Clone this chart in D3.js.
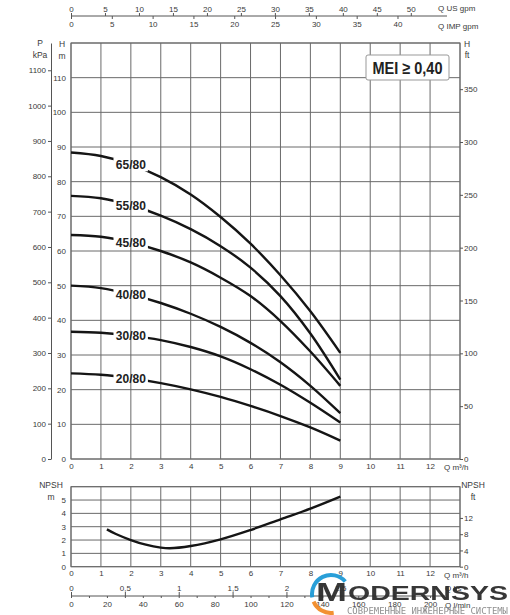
<!DOCTYPE html>
<html>
<head>
<meta charset="utf-8">
<script src="https://cdn.jsdelivr.net/npm/d3@7"></script>
<style>
  body { margin: 0; background: #fff; }
  svg text { font-family: "Liberation Sans", Arial, sans-serif; }
</style>
</head>
<body>
<svg id="chart" width="510" height="615"></svg>
<script>
// head curves (m), one per model
const flowPoints = [0, 1, 2, 3, 4, 5, 6, 7, 8, 9];
const modelNames = ["65/80", "55/80", "45/80", "40/80", "30/80", "20/80"];
const head6580 = [88.4, 87.4, 85.0, 81.3, 76.3, 69.8, 62.1, 53.0, 42.6, 30.6];
const head5580 = [75.9, 75.2, 73.2, 70.2, 66.3, 61.4, 55.2, 47.0, 36.2, 22.9];
const head4580 = [64.6, 64.1, 62.5, 60.0, 56.7, 52.3, 47.0, 39.8, 31.0, 21.1];
const head4080 = [50.0, 49.3, 47.5, 45.0, 41.9, 38.1, 33.5, 27.9, 21.1, 13.2];
const head3080 = [36.7, 36.4, 35.6, 34.3, 32.3, 29.6, 25.9, 21.4, 16.2, 10.5];
const head2080 = [24.7, 24.3, 23.3, 21.9, 20.1, 17.9, 15.3, 12.4, 9.1, 5.3];
const headSeries = [head6580, head5580, head4580, head4080, head3080, head2080];

// NPSH curve (m)
const npshFlow = [1.2, 1.5, 2, 2.5, 3, 3.3, 4, 5, 6, 7, 8, 9];
const npshValues = [2.8, 2.45, 2.0, 1.65, 1.43, 1.38, 1.55, 2.05, 2.75, 3.55, 4.35, 5.25];

// tick labels
const flowTicks = [0, 1, 2, 3, 4, 5, 6, 7, 8, 9, 10, 11, 12];
const headTicks = [0, 10, 20, 30, 40, 50, 60, 70, 80, 90, 100, 110];
const kpaTicks = [0, 100, 200, 300, 400, 500, 600, 700, 800, 900, 1000, 1100];
const ftTicks = [0, 50, 100, 150, 200, 250, 300, 350];
const npshTicks = [0, 1, 2, 3, 4, 5];
const npshFtTicks = [0, 4, 8, 12];
const usGpmTicks = [0, 5, 10, 15, 20, 25, 30, 35, 40, 45, 50];
const impGpmTicks = [0, 5, 10, 15, 20, 25, 30, 35, 40];
const lsTicks = [0, 0.5, 1, 1.5, 2, 2.5, 3];
const lminTicks = [0, 20, 40, 60, 80, 100, 120, 140, 160, 180, 200];
const lminMinor = [10, 30, 50, 70, 90, 110, 130, 150, 170, 190];

var svg = d3.select("#chart");
var gridColor = "#6a6a6a", textColor = "#3a3a3a";
var fmtInt = d3.format("d");

// plot boxes
var pLeft = 71, pRight = 460, pTop = 43, pBottom = 459;
var nTop = 486.7, nBottom = 566.7;

var x = d3.scaleLinear().domain([0, 13]).range([pLeft, pRight]);
var y = d3.scaleLinear().domain([0, 120]).range([pBottom, pTop]);
var yKpa = d3.scaleLinear().domain([0, 120 * 9.81]).range([pBottom, pTop]);
var yFt = d3.scaleLinear().domain([0, 120 * 3.2808]).range([pBottom, pTop]);
var yN = d3.scaleLinear().domain([0, 6]).range([nBottom, nTop]);
var yNft = d3.scaleLinear().domain([0, 6 * 3.2808]).range([nBottom, nTop]);
var xUs = d3.scaleLinear().domain([0, 13 / 0.22712]).range([pLeft, pRight]);
var xImp = d3.scaleLinear().domain([0, 13 / 0.27277]).range([pLeft, pRight]);
var xLs = d3.scaleLinear().domain([0, 13 / 3.6]).range([pLeft, pRight]);
var xLmin = d3.scaleLinear().domain([0, 13 / 0.06]).range([pLeft, pRight]);

function drawGrid(yScale, y0, y1, count) {
    var g = svg.append("g").attr("stroke", gridColor).attr("stroke-width", 1);
    g.selectAll("line.v").data(x.ticks(13)).enter().append("line")
        .attr("x1", d => x(d)).attr("x2", d => x(d))
        .attr("y1", y0).attr("y2", y1);
    g.selectAll("line.h").data(yScale.ticks(count)).enter().append("line")
        .attr("x1", pLeft).attr("x2", pRight)
        .attr("y1", d => yScale(d)).attr("y2", d => yScale(d));
    g.append("rect").attr("x", pLeft).attr("y", y1)
        .attr("width", pRight - pLeft).attr("height", y0 - y1)
        .attr("fill", "none");
}

function styleAxis(g, keepDomain) {
    g.attr("font-size", 8);
    g.selectAll("text").attr("fill", textColor);
    g.selectAll("line").attr("stroke", "#555");
    if (keepDomain) g.select(".domain").attr("stroke", "#555");
    else g.select(".domain").remove();
}

function label(txt, px, py, anchor, size) {
    svg.append("text").attr("x", px).attr("y", py)
        .attr("text-anchor", anchor || "middle")
        .attr("font-size", size || 8.5).attr("fill", textColor).text(txt);
}

drawGrid(y, pBottom, pTop, 12);
drawGrid(yN, nBottom, nTop, 6);

// ---- main chart axes
svg.append("g").attr("transform", "translate(51,0)")
    .call(d3.axisLeft(yKpa).tickValues(kpaTicks).tickFormat(fmtInt)
        .tickSize(3).tickSizeOuter(0).tickPadding(2))
    .call(g => styleAxis(g, true));
svg.append("g").attr("transform", "translate(" + pLeft + ",0)")
    .call(d3.axisLeft(y).tickValues(headTicks).tickFormat(fmtInt).tickSize(0).tickPadding(5))
    .call(g => styleAxis(g));
svg.append("g").attr("transform", "translate(" + pRight + ",0)")
    .call(d3.axisRight(yFt).tickValues(ftTicks).tickFormat(fmtInt).tickSize(3).tickPadding(1))
    .call(g => styleAxis(g));
svg.append("g").attr("transform", "translate(0," + pBottom + ")")
    .call(d3.axisBottom(x).tickValues(flowTicks).tickFormat(fmtInt).tickSize(0).tickPadding(4))
    .call(g => styleAxis(g));

label("P", 40, 46);
label("kPa", 40, 58);
label("H", 62, 47);
label("m", 62, 59);
label("H", 467, 47);
label("ft", 467, 58);
label("Q m³/h", 444, 470, "start", 8);

// ---- NPSH axes
svg.append("g").attr("transform", "translate(" + pLeft + ",0)")
    .call(d3.axisLeft(yN).tickValues(npshTicks).tickFormat(fmtInt).tickSize(0).tickPadding(5))
    .call(g => styleAxis(g));
svg.append("g").attr("transform", "translate(" + pRight + ",0)")
    .call(d3.axisRight(yNft).tickValues(npshFtTicks).tickFormat(fmtInt).tickSize(3).tickPadding(1))
    .call(g => styleAxis(g));
svg.append("g").attr("transform", "translate(0," + nBottom + ")")
    .call(d3.axisBottom(x).tickValues(flowTicks).tickFormat(fmtInt).tickSize(0).tickPadding(4))
    .call(g => styleAxis(g));

label("NPSH", 51, 488);
label("m", 51, 500);
label("NPSH", 473, 488);
label("ft", 473, 500);
label("Q m³/h", 444, 578, "start", 8);

// ---- top flow axes (gpm)
svg.append("line").attr("x1", pLeft).attr("x2", 447).attr("y1", 16).attr("y2", 16)
    .attr("stroke", "#555");
svg.append("g").attr("transform", "translate(0,16)")
    .call(d3.axisTop(xUs).tickValues(usGpmTicks).tickFormat(fmtInt).tickSize(3).tickPadding(1))
    .call(g => styleAxis(g));
svg.append("g").attr("transform", "translate(0,16)")
    .call(d3.axisBottom(xImp).tickValues(impGpmTicks).tickFormat(fmtInt).tickSize(3).tickPadding(2))
    .call(g => styleAxis(g));
label("Q US gpm", 438, 10.5, "start", 8);
label("Q IMP gpm", 438, 28.5, "start", 8);

// ---- bottom flow axes (l/s, l/min)
svg.append("line").attr("x1", pLeft).attr("x2", 445).attr("y1", 596).attr("y2", 596)
    .attr("stroke", "#555");
svg.append("g").attr("transform", "translate(0,596)")
    .call(d3.axisTop(xLs).tickValues(lsTicks).tickSize(4).tickPadding(1)
        .tickFormat(d => String(d).replace(".", ",")))
    .call(g => styleAxis(g));
svg.append("g").attr("transform", "translate(0,596)")
    .call(d3.axisBottom(xLmin).tickValues(lminTicks).tickFormat(fmtInt).tickSize(2).tickPadding(3))
    .call(g => styleAxis(g));
svg.append("g").attr("transform", "translate(0,596)")
    .call(d3.axisBottom(xLmin).tickValues(lminMinor).tickSize(2).tickFormat(""))
    .call(g => styleAxis(g));
label("Q l/s", 445, 591, "start", 8);
label("Q l/min", 445, 608, "start", 8);

// ---- head curves, broken where the model label sits
var defs = svg.append("defs");
var mask = defs.append("mask").attr("id", "lblMask")
    .attr("maskUnits", "userSpaceOnUse")
    .attr("x", 0).attr("y", 0).attr("width", 510).attr("height", 615);
mask.append("rect").attr("width", 510).attr("height", 615).attr("fill", "#fff");
mask.selectAll("rect.gap").data(headSeries).enter().append("rect")
    .attr("x", x(1.42)).attr("width", x(2.57) - x(1.42))
    .attr("y", d => y(d[2]) - 7).attr("height", 14)
    .attr("fill", "#000");

var line = d3.line()
    .x((d, i) => x(flowPoints[i]))
    .y(d => y(d))
    .curve(d3.curveCatmullRom.alpha(0.5));

svg.append("g").attr("mask", "url(#lblMask)")
    .selectAll("path").data(headSeries).enter().append("path")
    .attr("d", line)
    .attr("fill", "none").attr("stroke", "#151515").attr("stroke-width", 2.4);

svg.selectAll("text.model").data(headSeries).enter().append("text")
    .attr("class", "model")
    .attr("x", x(2)).attr("y", d => y(d[2]))
    .attr("dy", "0.36em").attr("text-anchor", "middle")
    .attr("font-size", 12).attr("font-weight", "bold").attr("fill", "#222")
    .text((d, i) => modelNames[i]);

// ---- NPSH curve
var npshLine = d3.line()
    .x((d, i) => x(npshFlow[i]))
    .y(d => yN(d))
    .curve(d3.curveCatmullRom.alpha(0.5));
svg.append("path").datum(npshValues)
    .attr("d", npshLine)
    .attr("fill", "none").attr("stroke", "#151515").attr("stroke-width", 2.4);

// ---- MEI box
svg.append("rect").attr("x", 366).attr("y", 55).attr("width", 83).attr("height", 25)
    .attr("rx", 2).attr("fill", "#fff").attr("stroke", "#999").attr("stroke-width", 1);
svg.append("text").attr("x", 407.5).attr("y", 74)
    .attr("text-anchor", "middle").attr("font-size", 17).attr("font-weight", "bold")
    .attr("fill", "#222").attr("textLength", 70).attr("lengthAdjust", "spacingAndGlyphs")
    .text("MEI ≥ 0,40");

// ---- watermark
var logo = svg.append("g").attr("opacity", 0.95);
var ring = d3.arc().innerRadius(17).outerRadius(21);
logo.append("path").attr("transform", "translate(331,594)")
    .attr("d", ring({ startAngle: -1.75, endAngle: 0.85 })).attr("fill", "#1e9ad6");
logo.append("path").attr("transform", "translate(331,594)")
    .attr("d", ring({ startAngle: 3.0, endAngle: 4.3 })).attr("fill", "#f28c28");
logo.append("text").attr("x", 316).attr("y", 601)
    .attr("font-size", 25).attr("font-weight", "bold").attr("fill", "#2d2d2d")
    .attr("textLength", 31).attr("lengthAdjust", "spacingAndGlyphs").text("M");
logo.append("text").attr("x", 348).attr("y", 600)
    .attr("font-size", 19.5).attr("font-weight", "bold").attr("fill", "#2d2d2d")
    .attr("textLength", 160).attr("lengthAdjust", "spacingAndGlyphs").text("ODERNSYS");
logo.append("text").attr("x", 347).attr("y", 614)
    .attr("font-size", 8).attr("fill", "#8a8a8a")
    .style("font-family", "'DejaVu Sans Mono', monospace")
    .attr("textLength", 161).attr("lengthAdjust", "spacingAndGlyphs")
    .text("СОВРЕМЕННЫЕ ИНЖЕНЕРНЫЕ СИСТЕМЫ");
</script>
</body>
</html>
